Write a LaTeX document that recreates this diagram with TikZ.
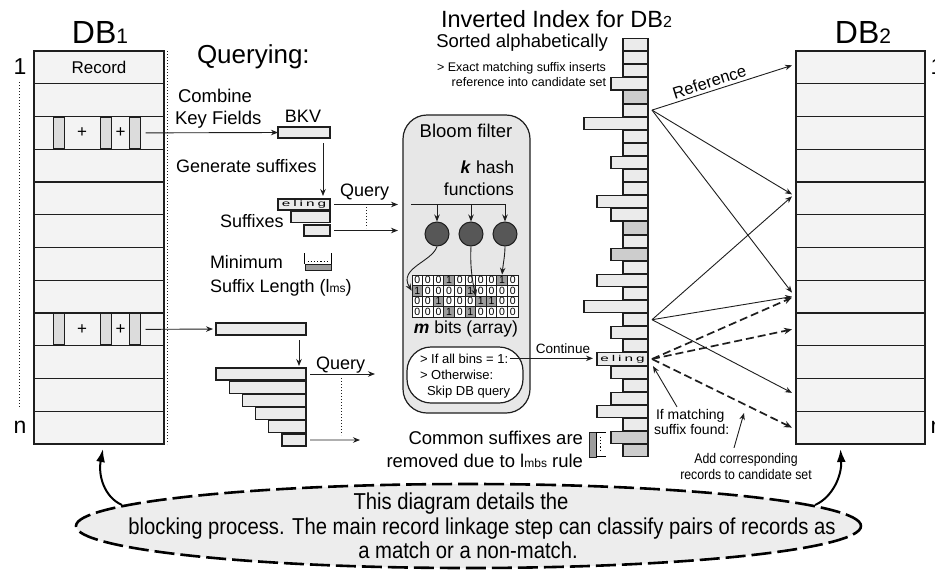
\documentclass[tikz,border=0pt]{standalone}
\usepackage{fontspec}
\setmainfont{Liberation Sans}
\newfontfamily\narrowfont[FakeStretch=0.88]{Liberation Sans}
\newfontfamily\elingfont[FakeStretch=1.8]{Liberation Sans}
\usetikzlibrary{arrows.meta,shapes.geometric,calc}
\definecolor{rowfill}{HTML}{F3F3F3}
\definecolor{keyfill}{HTML}{DCDCDC}
\definecolor{barfill}{HTML}{EBEBEB}
\definecolor{bardark}{HTML}{CDCDCD}
\definecolor{bloomfill}{HTML}{E7E7E7}
\definecolor{hashfill}{HTML}{575757}
\definecolor{bitone}{HTML}{9C9C9C}
\definecolor{ellfill}{HTML}{EDEDED}
\definecolor{linec}{HTML}{1E1E1E}
\newcommand\fsz[2]{\fontsize{#1}{#2}\selectfont}
\newcommand\elingtext{{\elingfont\fsz{8.5}{9}e\kern3pt l\kern3pt i\kern3pt n\kern3pt g}}
\begin{document}
\begin{tikzpicture}[x=1pt,y=-1pt,
  txt/.style={inner sep=0pt,outer sep=0pt},
  dbrow/.style={draw=linec,line width=1.1pt,fill=rowfill,minimum width=130pt,minimum height=32.75pt,inner sep=0pt,outer sep=0pt},
  keyf/.style={draw=linec,line width=1pt,fill=keyfill,minimum width=11pt,minimum height=31pt,inner sep=0pt,outer sep=0pt},
  sbar/.style={draw=linec,line width=1.1pt,fill=barfill,inner sep=0pt,outer sep=0pt},
  arr/.style={draw=linec,line width=0.9pt,-{Stealth[length=7pt,width=5.5pt]}},
  darr/.style={draw=linec,line width=1.7pt,dash pattern=on 8pt off 4pt,-{Stealth[length=8pt,width=6.5pt]}},
  bigarr/.style={draw=black,line width=2pt,-{Latex[length=13pt,width=9pt]}},
  dotline/.style={draw=linec,line width=1pt,dotted},
]
\fill[white] (0,0) rectangle (935,571);
\useasboundingbox (0,0) rectangle (935,571);

% ---------- DB tables
\foreach \i in {0,...,11}{
  \node[dbrow] (L\i) at (99,{67.375+32.75*\i}) {};
  \node[dbrow,minimum width=129pt] (R\i) at (860.5,{67.375+32.75*\i}) {};
}
\node[txt,anchor=base] (db1) at (100,43) {\fsz{32}{34}DB\fsz{21}{22}1};
\node[txt,anchor=base] (db2) at (863,43) {\fsz{32}{34}DB\fsz{21}{22}2};
\node[txt,font=\fsz{23}{25}] (lab1) at (20,67) {1};
\node[txt,font=\fsz{23}{25}] (labn) at (20,427) {n};
\node[txt,font=\fsz{23}{25}] (rlab1) at (937,67) {1};
\node[txt,font=\fsz{23}{25}] (rlabn) at (937,427) {n};
\node[txt,font=\fsz{17}{20}] (rec) at (L0) {Record};
\coordinate (dt1) at ($(L0.north east)+(3,0)$);
\coordinate (dt2) at ($(L11.south east)+(3,0)$);
\draw[dotline] (dt1) -- (dt2);
\coordinate (dl1) at (19,82);
\coordinate (dl2) at (19,408);
\draw[dotline] (dl1) -- (dl2);

\foreach \r/\y in {a/132.875,b/329.375}{
  \node[keyf] (k\r1) at (58.5,\y) {};
  \node[keyf] (k\r2) at (106,\y) {};
  \node[keyf] (k\r3) at (135,\y) {};
  \node[txt,font=\fsz{17}{20}] (p\r1) at (82,\y) {+};
  \node[txt,font=\fsz{17}{20}] (p\r2) at (120.5,\y) {+};
}

% ---------- Querying part
\node[txt,anchor=base west,font=\fsz{26}{30}] (qt) at (197,63) {Querying:};
\node[txt,anchor=base west,font=\fsz{18.5}{21}] (cmb1) at (178,102) {Combine};
\node[txt,anchor=base west,font=\fsz{18.5}{21}] (cmb2) at (175,124) {Key Fields};
\node[sbar,minimum width=52pt,minimum height=11pt] (bkv) at (304,132.5) {};
\node[txt,anchor=base,font=\fsz{18}{20}] (bkvl) at (303,122) {BKV};
\draw[arr] ($(ka3.east)+(5,0)$) -- (bkv.west);

\node[sbar,minimum width=52pt,minimum height=11pt] (s1) at (304,204.5) {\elingtext};
\node[sbar,minimum width=39pt,minimum height=11pt] (s2) at (310.5,217) {};
\node[sbar,minimum width=26pt,minimum height=11pt] (s3) at (317,230.5) {};
\draw[arr] ($(bkv.south east)+(-7,5)$) -- ($(s1.north east)+(-7,-3)$);
\node[txt,anchor=base west,font=\fsz{18}{21}] (gen) at (176,172) {Generate suffixes};
\node[txt,anchor=base west,font=\fsz{18}{21}] (suf) at (220,227) {Suffixes};
\node[txt,anchor=base west,font=\fsz{18}{21}] (q1) at (340,196) {Query};
\coordinate (qa1) at (398,204.5);
\coordinate (qa2) at (398,230.5);
\draw[arr] ($(s1.east)+(4,0)$) -- (qa1);
\draw[arr] ($(s3.east)+(4,0)$) -- (qa2);
\coordinate (qd1) at (366,207);
\coordinate (qd2) at (366,228);
\draw[dotline] (qd1) -- (qd2);

\node[txt,anchor=base west,font=\fsz{18}{21}] (mn1) at (210,268) {Minimum};
\node[txt,anchor=base west,font=\fsz{18}{21}] (mn2) at (210,292) {Suffix Length (l{\fsz{12}{14}ms})};
\node[draw=linec,line width=1pt,fill=bitone,minimum width=26pt,minimum height=6pt,inner sep=0pt] (mini) at (318,267) {};
\draw[line width=1.4pt,draw=black] (mini.north west) -- ($(mini.north west)+(0,-11)$);
\draw[line width=1.4pt,draw=black] (mini.north east) -- ($(mini.north east)+(0,-11)$);
\draw[dotted,line width=1.2pt] ($(mini.north west)+(3,-2)$) -- ($(mini.north east)+(-3,-2)$);

\node[sbar,minimum width=90pt,minimum height=12pt] (bkv2) at (261,329) {};
\draw[arr,shorten >=3pt] ($(kb3.east)+(5,0)$) -- (bkv2.west);
\foreach \i in {0,...,5}{
  \node[sbar,anchor=north east,minimum width={(90-13.2*\i)*1pt},minimum height=12pt] (t\i) at (306,{368+13.2*\i}) {};
}
\draw[arr] ($(bkv2.south east)+(-7,5)$) -- ($(t0.north east)+(-7,-2)$);
\coordinate (qb1) at (375,374);
\coordinate (qb2) at (360,440);
\draw[arr] ($(t0.east)+(4,0)$) -- (qb1);
\draw[arr] ($(t5.east)+(4,0)$) -- (qb2);
\coordinate (qe1) at (341,378);
\coordinate (qe2) at (341,435);
\draw[dotline] (qe1) -- (qe2);
\node[txt,anchor=base west,font=\fsz{18}{21}] (q2) at (316,369) {Query};

% ---------- Bloom filter
\node[draw=linec,line width=1.2pt,fill=bloomfill,rounded corners=24pt,minimum width=127pt,minimum height=298pt,inner sep=0pt] (bloom) at (466.5,264) {};
\node[txt,anchor=base,font=\fsz{18.5}{21}] (bft) at (466,137) {Bloom filter};
\node[txt,anchor=base east,font=\fsz{17.5}{20}] (kh1) at (514,173) {\textbf{\textit{k}} hash};
\node[txt,anchor=base east,font=\fsz{17.5}{20}] (kh2) at (514,195) {functions};
\coordinate (h0) at (411,204);
\coordinate (h1) at (506,204);
\draw[line width=1pt,draw=linec] (h0) -- (h1);
\foreach \n/\x in {1/437,2/471,3/505}{
  \node[circle,draw=linec,line width=1pt,fill=hashfill,minimum size=24pt,inner sep=0pt] (c\n) at (\x,234) {};
  \draw[arr] (c\n.north |- h0) -- (c\n.north);
}
\foreach \r/\vals in {0/{0,0,0,1,0,0,0,0,1,0},1/{1,0,0,0,0,1,0,0,0,0},2/{0,0,1,0,0,0,1,1,0,0},3/{0,0,0,1,0,1,0,0,0,0}}{
  \foreach \v [count=\c from 0] in \vals {
    \ifnum\v=1\relax\def\cf{bitone}\else\def\cf{white}\fi
    \node[draw=linec,line width=0.7pt,fill=\cf,minimum width=10.6pt,minimum height=10.5pt,inner sep=0pt,font=\fsz{10.5}{10.5}] (b\r-\c) at ({417.3+10.6*\c},{280.25+10.5*\r}) {\v};
  }
}
\draw[arr] (c1.south) .. controls (432,262) and (398,268) .. (b1-0.west);
\draw[arr] (c2.south) .. controls (470,265) and (472,280) .. (b1-5.south east);
\draw[arr] (c3.south) .. controls (505,255) and (503,265) .. (b0-8.north);
\node[txt,anchor=base,font=\fsz{17.5}{20}] (mb) at (466,333) {\textbf{\textit{m}} bits (array)};

\node[draw=linec,line width=1.2pt,fill=white,rounded corners=24pt,minimum width=116pt,minimum height=56pt,inner sep=0pt] (dec) at (465,375) {};
\node[txt,anchor=base west,font=\fsz{13}{15}] (d1) at (420,363) {> If all bins = 1:};
\node[txt,anchor=base west,font=\fsz{13}{15}] (d2) at (420,379) {> Otherwise:};
\node[txt,anchor=base west,font=\fsz{13}{15}] (d3) at (427,395) {Skip DB query};

% ---------- Inverted index
\node[txt,anchor=base west,font=\fsz{23.5}{26}] (iit) at (441,27) {Inverted Index for DB{\fsz{16}{18}2}};
\node[txt,anchor=base east,font=\fsz{18.5}{21}] (sa) at (608,47) {Sorted alphabetically};
\node[txt,anchor=base east,font=\fsz{12.5}{14}] (em1) at (606,71) {> Exact matching suffix inserts};
\node[txt,anchor=base east,font=\fsz{12.5}{14}] (em2) at (606,86) {reference into candidate set};

\foreach \i/\l/\f in {0/623/barfill,1/623/barfill,2/623/barfill,3/611/barfill,4/623/bardark,5/623/barfill,6/584/barfill,7/623/barfill,8/623/barfill,9/611/barfill,10/623/barfill,11/623/barfill,12/597/barfill,13/611/barfill,14/623/bardark,15/623/barfill,16/611/bardark,17/623/barfill,18/597/barfill,19/623/barfill,20/584/barfill,21/623/barfill,22/611/barfill,23/623/barfill,24/597/barfill,25/611/barfill,26/623/barfill,27/611/barfill,28/597/barfill,29/623/barfill,30/611/bardark,31/623/bardark}{
  \node[sbar,fill=\f,anchor=north east,minimum width={(648-\l)*1pt},minimum height=12.2pt] (ix\i) at (648,{38.5+13.1*\i}) {};
}
\node[txt] (elg2) at (ix24) {\elingtext};

\draw[arr] ($(d1.east)+(2,0)$) -- ($(d1.east -| ix24.west)+(-4,0)$);
\node[txt,anchor=base,font=\fsz{13.5}{15}] (cont) at (563,353) {Continue};

\node[txt,anchor=base east,font=\fsz{18.5}{21}] (cs1) at (583,444) {Common suffixes are};
\node[txt,anchor=base east,font=\fsz{18.5}{21}] (cs2) at (583,467) {removed due to l{\fsz{12}{14}mbs} rule};
\node[draw=linec,line width=1pt,fill=bitone,minimum width=7pt,minimum height=25pt,inner sep=0pt] (cbr) at (592.5,444.5) {};
\draw[line width=1.4pt,draw=black] ($(cbr.north east)+(9,1)$) -- ($(cbr.north east)+(0,1)$) -- ($(cbr.south east)+(0,-1)$) -- ($(cbr.south east)+(9,-1)$);
\draw[dotted,line width=1.3pt] ($(cbr.north east)+(4,5)$) -- ($(cbr.south east)+(4,-5)$);

% ---------- references into DB2
\coordinate (srcA) at ($(ix5.east)+(4,0)$);
\coordinate (srcB) at ($(ix21.east)+(4,0)$);
\coordinate (srcC) at ($(ix24.east)+(4,0)$);
\coordinate (tA1) at ($(R0.west)+(-4,-2)$);
\coordinate (tA2) at ($(R4.west)+(-4,-4)$);
\coordinate (tA3) at ($(R7.west)+(-4,-4)$);
\coordinate (tB1) at ($(R4.west)+(-4,-2)$);
\coordinate (tB2) at ($(R7.west)+(-4,0)$);
\coordinate (tB3) at ($(R10.west)+(-4,-2)$);
\coordinate (tC1) at ($(R7.west)+(-4,1)$);
\coordinate (tC2) at ($(R8.west)+(-4,0)$);
\coordinate (tC3) at ($(R11.west)+(-4,0)$);
\draw[arr] (srcA) -- node[sloped,above=3pt,pos=0.43,font=\fsz{16.5}{18},inner sep=0pt] (refl) {Reference} (tA1);
\draw[arr] (srcA) -- (tA2);
\draw[arr] (srcA) -- (tA3);
\draw[arr] (srcB) -- (tB1);
\draw[arr] (srcB) -- (tB2);
\draw[arr] (srcB) -- (tB3);
\draw[darr] (srcC) -- (tC1);
\draw[darr] (srcC) -- (tC2);
\draw[darr] (srcC) -- (tC3);

\node[txt,anchor=base west,font=\fsz{14}{16}] (im1) at (656,419) {If matching};
\node[txt,anchor=base west,font=\fsz{14}{16}] (im2) at (654,434) {suffix found:};
\draw[arr] ($(im1.north west)+(21,-2)$) -- ($(ix24.south east)+(5,1)$);
\node[txt,anchor=base,font=\narrowfont\fsz{14}{16}] (ac1) at (746,463) {Add corresponding};
\node[txt,anchor=base,font=\narrowfont\fsz{14}{16}] (ac2) at (746,479) {records to candidate set};
\coordinate (acTip) at (744,413);
\draw[arr] ($(ac1.north)+(-12,-5)$) -- (acTip);

% ---------- bottom ellipse
\node[ellipse,draw=black,line width=2.6pt,dash pattern=on 20pt off 6pt,fill=ellfill,minimum width=785pt,minimum height=84pt,inner sep=0pt] (ell) at (468.5,526) {};
\node[txt,anchor=base,font=\narrowfont\fsz{23}{26}] (e1) at (461,509) {This diagram details the};
\node[txt,anchor=base,font=\narrowfont\fsz{23}{26}] (e2) at (482,534) {blocking process. The main record linkage step can classify pairs of records as};
\node[txt,anchor=base,font=\narrowfont\fsz{23}{26}] (e3) at (468,558) {a match or a non-match.};
\coordinate (ellL) at (122,505);
\coordinate (ellR) at (815,505);
\draw[bigarr] (ellL) .. controls (104,497) and (98,475) .. ($(L11.south)+(4,5)$);
\draw[bigarr] (ellR) .. controls (833,497) and (842,475) .. ($(R11.south)+(-20,5)$);
\end{tikzpicture}
\end{document}
